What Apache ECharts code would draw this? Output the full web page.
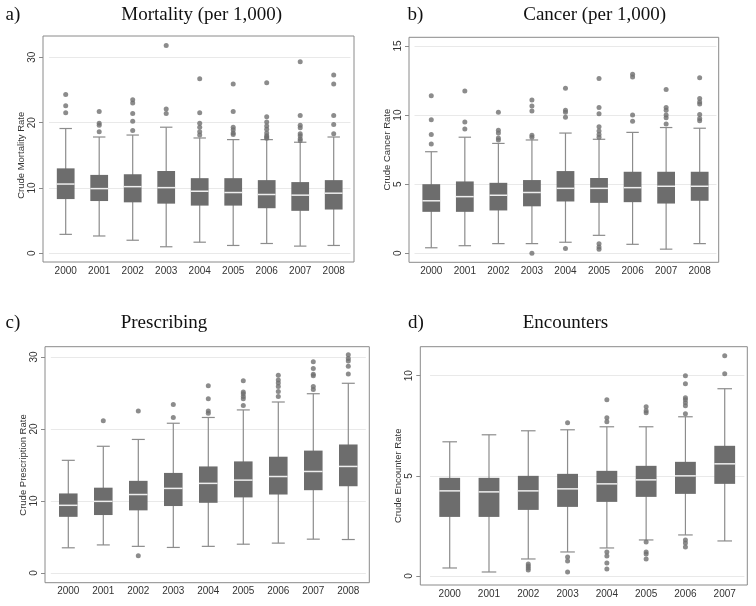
<!DOCTYPE html>
<html>
<head>
<meta charset="utf-8">
<script src="https://cdn.jsdelivr.net/npm/echarts@6/dist/echarts.min.js"></script>
<style>
  html, body { margin: 0; padding: 0; background: #fff; }
  #chart { width: 756px; height: 606px; }
</style>
</head>
<body>
<div id="chart"></div>
<script>
// categories
const years9 = ['2000', '2001', '2002', '2003', '2004', '2005', '2006', '2007', '2008'];
const years8 = ['2000', '2001', '2002', '2003', '2004', '2005', '2006', '2007'];

// a) mortality
const mortLow = [2.9, 2.65, 2.0, 1.0, 1.7, 1.2, 1.5, 1.1, 1.2];
const mortQ1 = [8.3, 8.0, 7.8, 7.6, 7.3, 7.3, 6.9, 6.5, 6.7];
const mortMed = [10.6, 9.9, 10.2, 10.05, 9.5, 9.3, 9.0, 8.9, 9.2];
const mortQ3 = [13.0, 12.0, 12.1, 12.6, 11.5, 11.5, 11.2, 10.9, 11.2];
const mortHigh = [19.1, 17.8, 18.1, 19.3, 17.65, 17.4, 17.4, 17.0, 17.8];
const mortOut = [
  [24.3, 22.6, 21.5],
  [21.7, 19.9, 19.6, 18.6],
  [23.5, 23.0, 21.4, 20.2, 18.8],
  [31.8, 22.1, 21.4],
  [26.7, 21.5, 19.9, 19.3, 18.6, 18.1],
  [25.9, 21.7, 19.3, 18.9, 18.4, 18.2],
  [26.1, 20.9, 20.1, 19.5, 19.0, 18.4, 18.0, 17.8, 17.6],
  [29.3, 21.1, 19.6, 19.2, 18.3, 18.0, 17.55, 17.25],
  [27.3, 25.9, 21.1, 19.7, 18.3]
];

// b) cancer
const cancLow = [0.4, 0.55, 0.7, 0.7, 0.8, 1.3, 0.65, 0.3, 0.7];
const cancQ1 = [3.0, 3.0, 3.1, 3.4, 3.75, 3.65, 3.7, 3.6, 3.8];
const cancMed = [3.8, 4.1, 4.2, 4.4, 4.7, 4.7, 4.75, 4.85, 4.85];
const cancQ3 = [5.0, 5.2, 5.1, 5.3, 5.95, 5.45, 5.9, 5.9, 5.9];
const cancHigh = [7.35, 8.4, 7.95, 8.2, 8.7, 8.25, 8.75, 9.1, 9.05];
const cancOut = [
  [11.4, 9.67, 8.6, 7.9],
  [11.75, 9.5, 9.0],
  [10.2, 8.9, 8.7, 8.35, 8.2],
  [11.1, 10.65, 10.3, 8.55, 8.4, 0.0],
  [11.95, 10.35, 10.2, 9.85, 0.35],
  [12.65, 10.55, 10.1, 9.15, 8.85, 8.6, 8.4, 0.7, 0.45, 0.3],
  [12.95, 12.75, 10.0, 9.55],
  [11.85, 10.55, 10.35, 10.0, 9.8, 9.35],
  [12.7, 11.2, 10.95, 10.8, 10.05, 9.75, 9.6]
];

// c) prescribing
const presLow = [3.5, 3.9, 3.7, 3.55, 3.7, 4.0, 4.15, 4.7, 4.65];
const presQ1 = [7.8, 8.05, 8.7, 9.3, 9.75, 10.5, 10.9, 11.5, 12.05];
const presMed = [9.4, 9.95, 10.9, 11.75, 12.45, 12.9, 13.4, 14.1, 14.8];
const presQ3 = [11.05, 11.85, 12.8, 13.9, 14.8, 15.5, 16.15, 17.0, 17.85];
const presHigh = [15.65, 17.6, 18.55, 20.8, 21.6, 22.65, 23.75, 24.9, 26.35];
const presOut = [
  [],
  [21.15],
  [22.5, 2.4],
  [23.4, 21.6],
  [26.0, 24.2, 22.5, 22.2],
  [26.7, 25.15, 24.9, 24.5, 24.2, 23.25],
  [27.45, 26.8, 26.4, 25.9, 25.2, 24.5],
  [29.35, 28.4, 27.6, 27.4, 25.9, 25.5],
  [30.3, 29.8, 29.45, 28.7, 27.65]
];

// d) encounters
const encLow = [0.4, 0.2, 0.85, 1.2, 1.4, 1.8, 2.05, 1.75];
const encQ1 = [2.95, 2.95, 3.3, 3.45, 3.7, 3.95, 4.1, 4.6];
const encMed = [4.25, 4.2, 4.25, 4.35, 4.6, 4.8, 5.0, 5.6];
const encQ3 = [4.9, 4.9, 5.0, 5.1, 5.25, 5.5, 5.7, 6.5];
const encHigh = [6.7, 7.05, 7.25, 7.3, 7.45, 7.45, 7.95, 9.35];
const encOut = [
  [],
  [],
  [0.6, 0.5, 0.4, 0.3],
  [7.65, 0.95, 0.75, 0.2],
  [8.8, 7.9, 7.7, 1.2, 1.0, 0.65, 0.35],
  [8.45, 8.25, 8.15, 1.7, 1.2, 1.1, 0.85],
  [10.0, 9.6, 8.9, 8.8, 8.65, 8.5, 8.1, 1.8, 1.65, 1.45],
  [11.0, 10.1]
];

const BOX = '#6d6d6d';
const WHISK = '#8c8c8c';
const FRAME = '#8a8a8a';
const SANS = '"Liberation Sans", Arial, sans-serif';
const SERIF = '"Liberation Serif", "Times New Roman", serif';

const panels = [
  { tag: 'a)', title: 'Mortality (per 1,000)', name: 'Crude Mortality Rate', cats: years9,
    low: mortLow, q1: mortQ1, med: mortMed, q3: mortQ3, high: mortHigh, out: mortOut,
    min: 0, max: 30, step: 10,
    grid: { left: 48.95, top: 57.3, width: 301.5, height: 196 },
    frame: [43, 36, 311, 226], yOff: 5.95, xOff: 8.7, gap: 14,
    tagX: 13, titleX: 201.7, titleY: 15 },
  { tag: 'b)', title: 'Cancer (per 1,000)', name: 'Crude Cancer Rate', cats: years9,
    low: cancLow, q1: cancQ1, med: cancMed, q3: cancQ3, high: cancHigh, out: cancOut,
    min: 0, max: 15, step: 5,
    grid: { left: 414.5, top: 46, width: 301.95, height: 207.3 },
    frame: [409, 37.3, 309.7, 225], yOff: 5.5, xOff: 9, gap: 14.5,
    tagX: 415.5, titleX: 594.7, titleY: 15 },
  { tag: 'c)', title: 'Prescribing', name: 'Crude Prescription Rate', cats: years9,
    low: presLow, q1: presQ1, med: presMed, q3: presQ3, high: presHigh, out: presOut,
    min: 0, max: 30, step: 10,
    grid: { left: 50.8, top: 357, width: 315, height: 216 },
    frame: [45, 346.7, 324.3, 236], yOff: 5.8, xOff: 9.7, gap: 16,
    tagX: 13, titleX: 164, titleY: 323 },
  { tag: 'd)', title: 'Encounters', name: 'Crude Encounter Rate', cats: years8,
    low: encLow, q1: encQ1, med: encMed, q3: encQ3, high: encHigh, out: encOut,
    min: 0, max: 10, step: 5,
    grid: { left: 430.06, top: 375.7, width: 314.3, height: 200.3 },
    frame: [420.3, 346.7, 327, 238.3], yOff: 9.76, xOff: 9, gap: 16,
    tagX: 416, titleX: 565.5, titleY: 323 }
];

function renderBox(params, api) {
  const x = api.value(0);
  const lo = api.coord([x, api.value(1)]);
  const q1 = api.coord([x, api.value(2)]);
  const md = api.coord([x, api.value(3)]);
  const q3 = api.coord([x, api.value(4)]);
  const hi = api.coord([x, api.value(5)]);
  const band = api.size([1, 0])[0];
  const bw = band * 0.53;
  const cw = bw * 0.7;
  const cx = lo[0];
  const wStyle = { stroke: WHISK, lineWidth: 1.2 };
  return {
    type: 'group',
    children: [
      { type: 'line', shape: { x1: cx, y1: hi[1], x2: cx, y2: lo[1] }, style: wStyle },
      { type: 'line', shape: { x1: cx - cw / 2, y1: hi[1], x2: cx + cw / 2, y2: hi[1] }, style: wStyle },
      { type: 'line', shape: { x1: cx - cw / 2, y1: lo[1], x2: cx + cw / 2, y2: lo[1] }, style: wStyle },
      { type: 'rect', shape: { x: cx - bw / 2, y: q3[1], width: bw, height: q1[1] - q3[1] }, style: { fill: BOX } },
      { type: 'line', shape: { x1: cx - bw / 2, y1: md[1], x2: cx + bw / 2, y2: md[1] }, style: { stroke: '#eeeeee', lineWidth: 1.5 } }
    ]
  };
}

const grid = [], xAxis = [], yAxis = [], series = [], graphic = [];

panels.forEach((p, i) => {
  grid.push(p.grid);
  xAxis.push({
    gridIndex: i, type: 'category', data: p.cats, offset: p.xOff,
    axisLine: { show: false }, axisTick: { show: false },
    axisLabel: { margin: 4, fontSize: 10, color: '#333', fontFamily: SANS },
    splitLine: { show: false }
  });
  yAxis.push({
    gridIndex: i, type: 'value', min: p.min, max: p.max, interval: p.step, offset: p.yOff,
    axisLine: { show: false },
    axisTick: { show: true, length: 4, lineStyle: { color: FRAME } },
    axisLabel: { rotate: 90, margin: 6, fontSize: 10, color: '#333', fontFamily: SANS },
    splitLine: { show: true, lineStyle: { color: '#e9e9e9', width: 1 } },
    name: p.name, nameLocation: 'middle', nameRotate: 90, nameGap: p.gap,
    nameTextStyle: { fontSize: 9.5, color: '#333', fontFamily: SANS }
  });
  const boxData = p.cats.map((c, k) => [k, p.low[k], p.q1[k], p.med[k], p.q3[k], p.high[k]]);
  series.push({
    type: 'custom', xAxisIndex: i, yAxisIndex: i, renderItem: renderBox,
    encode: { x: 0, y: [1, 2, 3, 4, 5] }, data: boxData, clip: false, silent: true
  });
  const outData = [];
  p.out.forEach((vals, k) => vals.forEach(v => outData.push([k, v])));
  series.push({
    type: 'scatter', xAxisIndex: i, yAxisIndex: i, data: outData, clip: false,
    symbol: 'circle', symbolSize: 5, itemStyle: { color: '#6f6f6f' }, silent: true
  });
  const f = p.frame;
  graphic.push({
    type: 'rect', shape: { x: f[0], y: f[1], width: f[2], height: f[3] },
    style: { fill: null, stroke: FRAME, lineWidth: 1 }, z: 10
  });
  graphic.push({
    type: 'text', x: p.tagX, y: p.titleY,
    style: { text: p.tag, font: '19px ' + SERIF, fill: '#111', align: 'center', verticalAlign: 'middle' }
  });
  graphic.push({
    type: 'text', x: p.titleX, y: p.titleY,
    style: { text: p.title, font: '19px ' + SERIF, fill: '#111', align: 'center', verticalAlign: 'middle' }
  });
});

const chart = echarts.init(document.getElementById('chart'));
chart.setOption({
  animation: false,
  backgroundColor: '#fff',
  grid, xAxis, yAxis, series, graphic
});
</script>
</body>
</html>
